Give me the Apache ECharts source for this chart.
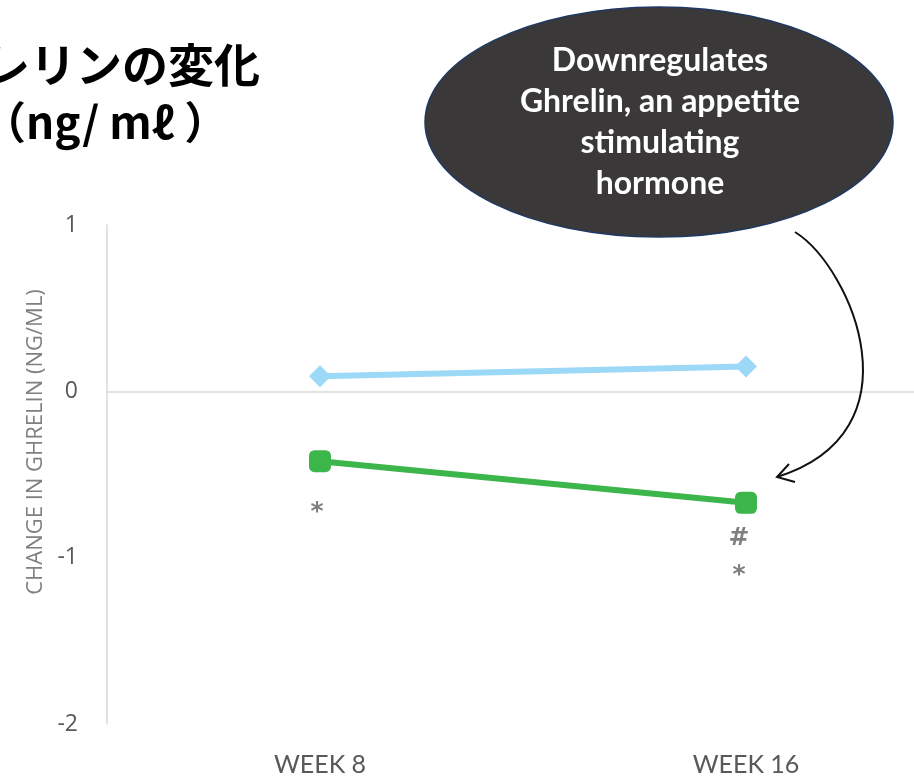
<!DOCTYPE html>
<html>
<head>
<meta charset="utf-8">
<script src="https://cdn.jsdelivr.net/npm/echarts@6/dist/echarts.min.js"></script>
<style>
    html, body { margin: 0; padding: 0; background: #fff; }
    #chart { width: 914px; height: 779px; }
</style>
</head>
<body>
<div id="chart"></div>
<script>
// data
var weeks = ['WEEK 8', 'WEEK 16'];
var controlValues = [0.09, 0.15];
var treatedValues = [-0.42, -0.67];
var treatedMarks = ['*', '#\n*'];
var yTicks = [-2, -1, 0, 1];
var titleLines = ['グレリンの変化', '（ng/ mℓ ）'];
var yName = 'CHANGE IN GHRELIN (NG/ML)';
var bubbleText = 'Downregulates\nGhrelin, an appetite\nstimulating\nhormone';

var chart = echarts.init(document.getElementById('chart'));

var option = {
    animation: false,
    backgroundColor: '#ffffff',
    // plot runs past the right edge of the picture
    grid: { left: 107, right: -45, top: 225, bottom: 55, outerBoundsMode: 'none' },
    xAxis: {
        type: 'category',
        data: weeks,
        boundaryGap: true,
        axisLine: { show: false, onZero: false },
        axisTick: { show: false },
        axisLabel: {
            color: '#595959',
            fontFamily: 'Lato',
            fontSize: 25,
            margin: 28
        }
    },
    yAxis: {
        type: 'value',
        min: yTicks[0],
        max: yTicks[yTicks.length - 1],
        interval: 1,
        axisLine: { show: true, lineStyle: { color: '#d9d9d9', width: 1.5 } },
        axisTick: { show: false },
        splitLine: { show: false },
        axisLabel: {
            color: '#595959',
            fontFamily: 'Open Sans',
            fontSize: 23,
            margin: 29
        }
    },
    series: [
        {
            type: 'line',
            data: controlValues,
            symbol: 'diamond',
            symbolSize: 22,
            lineStyle: { color: '#9bd9f7', width: 6 },
            itemStyle: { color: '#9bd9f7' },
            markLine: {
                silent: true,
                symbol: 'none',
                label: { show: false },
                lineStyle: { color: '#d9d9d9', width: 1.5, type: 'solid' },
                data: [{ yAxis: 0 }]
            },
            z: 3
        },
        {
            type: 'line',
            data: treatedValues.map(function (v, i) {
                return {
                    value: v,
                    label: {
                        show: true,
                        position: 'bottom',
                        distance: i === 0 ? 22 : 6,
                        offset: i === 0 ? [-3, 0] : [-7, 0],
                        formatter: treatedMarks[i],
                        color: '#7f7f7f',
                        fontFamily: 'DejaVu Sans',
                        fontWeight: 'bold',
                        fontSize: 25,
                        lineHeight: 37
                    }
                };
            }),
            symbol: 'roundRect',
            symbolSize: 22,
            lineStyle: { color: '#3cb64b', width: 6 },
            itemStyle: { color: '#3cb64b' },
            z: 3
        }
    ],
    graphic: [
        {
            type: 'text',
            style: {
                x: 260, y: 65,
                text: titleLines[0],
                align: 'right',
                verticalAlign: 'middle',
                font: 'bold 46px "Noto Sans CJK JP"',
                fill: '#000'
            }
        },
        {
            type: 'text',
            style: {
                x: -18, y: 122,
                text: titleLines[1],
                align: 'left',
                verticalAlign: 'middle',
                font: 'bold 44px "Noto Sans CJK JP"',
                fill: '#000'
            }
        },
        {
            type: 'text',
            x: 36, y: 442,
            rotation: Math.PI / 2,
            style: {
                x: 0, y: 0,
                text: yName,
                align: 'center',
                verticalAlign: 'middle',
                font: '22px "Open Sans"',
                fill: '#808080'
            }
        },
        {
            type: 'ellipse',
            shape: { cx: 659, cy: 122, rx: 234, ry: 115 },
            style: { fill: '#3a3838', stroke: '#1f3864', lineWidth: 1.5 },
            z: 10
        },
        {
            type: 'text',
            z: 11,
            style: {
                x: 660, y: 122,
                text: bubbleText,
                align: 'center',
                verticalAlign: 'middle',
                font: 'bold 32px Lato',
                lineHeight: 41,
                fill: '#ffffff'
            }
        },
        {
            type: 'bezierCurve',
            z: 11,
            shape: { x1: 795, y1: 232, cpx1: 852, cpy1: 268, cpx2: 922, cpy2: 432, x2: 777, y2: 477 },
            style: { stroke: '#111', lineWidth: 2, fill: null }
        },
        {
            type: 'polyline',
            z: 11,
            shape: { points: [[789, 464], [777, 477], [795, 482]] },
            style: { stroke: '#111', lineWidth: 2, fill: null }
        }
    ]
};

chart.setOption(option);
</script>
</body>
</html>
